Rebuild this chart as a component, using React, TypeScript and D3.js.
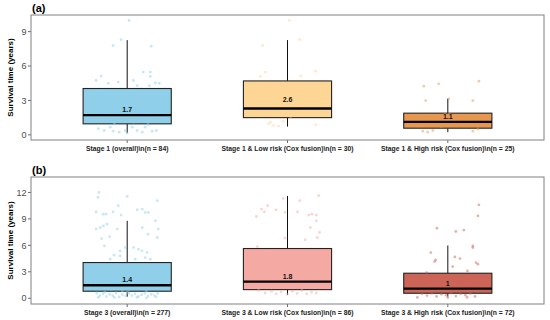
import React from "react";
import * as d3 from "d3";

// ---------- data ----------
const catsA = [
  "Stage 1 (overall)\\n(n = 84)",
  "Stage 1 & Low risk (Cox fusion)\\n(n = 30)",
  "Stage 1 & High risk (Cox fusion)\\n(n = 25)",
];
const catsB = [
  "Stage 3 (overall)\\n(n = 277)",
  "Stage 3 & Low risk (Cox fusion)\\n(n = 86)",
  "Stage 3 & High risk (Cox fusion)\\n(n = 72)",
];
// [lowerWhisker, q1, median, q3, upperWhisker]
const statsA = [
  [0.15, 0.96, 1.72, 4.04, 8.26],
  [0.72, 1.5, 2.3, 4.7, 8.26],
  [0.23, 0.58, 1.13, 1.89, 3.16],
];
const statsB = [
  [0.18, 0.8, 1.48, 4.05, 8.78],
  [0.38, 0.98, 1.89, 5.64, 11.6],
  [0.18, 0.57, 1.09, 2.84, 5.98],
];
const labelsA = ["1.7", "2.6", "1.1"];
const labelValsA = [1.7, 2.6, 1.1];
const labelsB = ["1.4", "1.8", "1"];
const labelValsB = [1.4, 1.8, 1.0];
const ticksA = [0, 3, 6, 9];
const ticksB = [0, 3, 6, 9, 12];
const colorsA = ["#8fcfe9", "#fdd696", "#e8974f"];
const colorsB = ["#8fcfe9", "#f4aaa3", "#cc6457"];

// points: [jitter (-1..1), survival years]
const ptsA1 = [
  [0.06, 9.97], [-0.19, 8.31], [-0.44, 7.79], [0.75, 7.73], [-0.81, 5.12], [-0.97, 4.74], [-0.59, 4.5], [-0.28, 4.6],
  [0.19, 4.74], [0.5, 5.47], [0.72, 5.47], [0.72, 5.09], [0.88, 4.53], [1.0, 4.5], [0.69, 4.27], [0.31, 4.3],
  [-0.9, 3.6], [-0.5, 3.2], [0.1, 3.5], [0.6, 3.0], [-0.7, 2.6], [0.35, 2.4], [0.9, 2.1], [-0.3, 2.0], [-0.85, 1.8],
  [0.5, 1.6], [-0.1, 1.4], [0.8, 1.3], [-0.6, 1.2], [0.2, 1.1], [-0.4, 0.95], [0.65, 0.9],
  [-0.72, 0.38], [-0.53, 0.67], [-0.44, 0.32], [-0.25, 0.23], [-0.06, 0.38], [0.16, 0.67], [0.31, 0.38], [0.47, 0.23],
  [0.56, 0.67], [0.78, 0.32], [0.91, 0.38], [-0.9, 0.55], [0.0, 0.15],
];
const ptsA2 = [
  [0.06, 9.97], [0.38, 8.31], [-0.78, 7.79], [-0.69, 5.47], [-0.84, 5.09], [0.41, 5.12], [0.88, 5.55], [-0.53, 1.1],
  [-0.44, 0.81], [-0.28, 0.76], [-0.13, 1.19], [0.88, 0.87], [-0.59, 0.96],
  [-0.6, 4.2], [0.2, 3.6], [0.7, 3.1], [-0.3, 2.8], [0.5, 2.0], [-0.8, 1.8], [0.1, 1.6],
];
const ptsA3 = [
  [-0.75, 4.24], [-0.28, 4.45], [0.97, 4.68], [-0.69, 2.99], [0.03, 3.14], [0.78, 2.99], [-0.09, 1.83], [0.05, 1.83],
  [-0.78, 0.32], [-0.63, 0.23], [-0.47, 0.38], [0.78, 0.32], [0.94, 0.52], [-0.5, 1.5], [0.4, 1.2], [0.6, 0.9],
  [-0.2, 0.7], [0.2, 1.6], [-0.9, 1.0],
];
const ptsB1 = [
  [-0.88, 12.0], [-0.91, 11.43], [0, 11.55], [0.94, 11.06], [-0.28, 10.49], [-0.97, 9.8], [-0.75, 9.54], [-0.66, 9.54],
  [-0.44, 9.8], [-0.19, 9.43], [0.31, 10.03], [0.47, 10.11], [0.56, 9.73], [0.66, 9.73], [-0.84, 8.02], [-0.74, 8.2],
  [-0.63, 8.4], [-0.97, 7.84], [-0.31, 7.84], [0.47, 8.02], [0.88, 8.78], [0.97, 7.84], [-0.8, 6.77], [-0.55, 7.0],
  [0.65, 7.27], [0.94, 6.89], [-0.71, 5.94], [-0.22, 5.38], [-0.06, 5.75], [0.2, 5.75], [0.35, 5.57], [0.46, 5.38],
  [0.62, 5.18], [-0.41, 4.89], [-0.22, 4.8], [-0.53, 4.43], [0.25, 4.43], [0.56, 4.61], [0.72, 4.43],
  [-0.9, 3.8], [-0.6, 3.5], [-0.2, 3.7], [0.1, 3.3], [0.5, 3.6], [0.85, 3.2], [-0.8, 2.9], [-0.4, 2.6], [0.3, 2.8],
  [0.7, 2.4], [-0.95, 2.2], [-0.1, 2.1], [0.55, 2.0], [-0.65, 1.8], [0.2, 1.7], [0.9, 1.6], [-0.3, 1.5], [0.4, 1.3],
  [-0.85, 1.2], [0.75, 1.1], [-0.5, 1.0], [0.05, 0.95], [-0.15, 0.85], [0.6, 0.85],
  [-0.95, 0.6], [-0.85, 0.3], [-0.75, 0.5], [-0.65, 0.2], [-0.55, 0.45], [-0.45, 0.3], [-0.35, 0.6], [-0.25, 0.15],
  [-0.15, 0.4], [-0.05, 0.25], [0.05, 0.55], [0.15, 0.3], [0.25, 0.5], [0.35, 0.2], [0.45, 0.4], [0.55, 0.6],
  [0.65, 0.25], [0.75, 0.45], [0.85, 0.3], [0.95, 0.55], [-0.9, 0.1], [-0.7, 0.7], [-0.4, 0.1], [0.0, 0.7],
  [0.3, 0.1], [0.6, 0.05], [0.9, 0.15],
];
const ptsB2 = [
  [-0.13, 11.32], [0.97, 11.63], [0.38, 11.06], [-0.97, 9.27], [-0.81, 10.11], [-0.72, 9.8], [-0.62, 10.49],
  [-0.36, 10.03], [-0.08, 9.73], [0.31, 9.8], [0.66, 9.43], [0.76, 9.54], [0.9, 9.43], [0.9, 8.78], [0.71, 8.02],
  [1.0, 7.46], [0.93, 6.89], [0.55, 6.63], [-0.08, 6.82], [-0.94, 5.86],
  [-0.6, 5.0], [0.3, 4.5], [-0.2, 3.9], [0.8, 3.4], [-0.8, 3.0], [0.1, 2.6], [0.5, 2.2], [-0.4, 1.7], [0.7, 1.4],
  [-0.7, 1.2], [-0.9, 0.9], [-0.7, 0.6], [-0.5, 0.8], [-0.35, 0.5], [-0.2, 0.7], [0.0, 0.45], [0.15, 0.8],
  [0.3, 0.55], [0.45, 0.9], [0.6, 0.5], [0.75, 0.7], [0.9, 0.6],
];
const ptsB3 = [
  [0.97, 10.6], [0.94, 9.35], [-0.34, 7.95], [0.25, 7.57], [0.5, 7.73], [0.78, 5.94], [0.78, 5.75], [-0.53, 5.18],
  [-0.38, 4.35], [-0.41, 4.16], [0.22, 4.69], [0.38, 4.5], [0.15, 3.59], [0.88, 4.05], [0.94, 3.86], [0.61, 3.1],
  [-0.66, 2.91], [-0.85, 2.5], [-0.5, 2.1], [0.0, 2.3], [0.5, 2.4], [0.9, 2.2], [-0.7, 1.6], [-0.2, 1.8], [0.3, 1.5],
  [0.7, 1.3], [-0.4, 1.1], [0.1, 0.9], [-0.95, 0.1], [-0.8, 0.5], [-0.65, 0.3], [-0.5, 0.55], [-0.35, 0.2],
  [-0.2, 0.45], [-0.05, 0.35], [0.1, 0.6], [0.25, 0.25], [0.4, 0.5], [0.55, 0.35], [0.7, 0.55], [0.85, 0.2],
  [-0.9, 0.75], [0.0, 0.08], [0.6, 0.1],
];

const panelA = { tag: "(a)", cats: catsA, stats: statsA, labels: labelsA, labelVals: labelValsA, ticks: ticksA, colors: colorsA, pts: [ptsA1, ptsA2, ptsA3], domain: [-0.45, 10.45], top: 15, bottom: 140 };
const panelB = { tag: "(b)", cats: catsB, stats: statsB, labels: labelsB, labelVals: labelValsB, ticks: ticksB, colors: colorsB, pts: [ptsB1, ptsB2, ptsB3], domain: [-0.65, 13.75], top: 177, bottom: 304 };

const LEFT = 31;
const RIGHT = 544;
const FONT = "'Liberation Sans', Arial, sans-serif";

function Panel({ p }: { p: typeof panelA }) {
  const x = d3.scaleLinear().domain([0.4, 3.6]).range([LEFT, RIGHT]);
  const y = d3.scaleLinear().domain(p.domain).range([p.bottom, p.top]);
  const halfBox = x(1.275) - x(1);
  const jit = x(1.2) - x(1);
  const mid = (p.top + p.bottom) / 2;
  return (
    <g>
      <text x={32} y={p.top - 3} fontFamily={FONT} fontWeight="bold" fontSize={11} fill="#000">{p.tag}</text>
      <text transform={`translate(13,${mid}) rotate(-90)`} textAnchor="middle" fontFamily={FONT} fontWeight="bold" fontSize={8} fill="#000">Survival time (years)</text>
      {p.ticks.map((t) => (
        <g key={t}>
          <line x1={LEFT - 3} x2={LEFT} y1={y(t)} y2={y(t)} stroke="#444" strokeWidth={0.8} />
          <text x={LEFT - 4.5} y={y(t) + 3.2} textAnchor="end" fontFamily={FONT} fontSize={9} fill="#4d4d4d">{t}</text>
        </g>
      ))}
      {p.cats.map((c, i) => (
        <g key={c}>
          <line x1={x(i + 1)} x2={x(i + 1)} y1={p.bottom} y2={p.bottom + 3} stroke="#444" strokeWidth={0.8} />
          <text x={x(i + 1)} y={p.bottom + 10.5} textAnchor="middle" fontFamily={FONT} fontWeight="bold" fontSize={6.8} fill="#222">{c}</text>
        </g>
      ))}
      {p.stats.map((s, i) => {
        const cx = x(i + 1);
        return (
          <g key={i}>
            <line x1={cx} x2={cx} y1={y(s[3])} y2={y(s[4])} stroke="#111" strokeWidth={1} />
            <line x1={cx} x2={cx} y1={y(s[1])} y2={y(s[0])} stroke="#111" strokeWidth={1} />
            <rect x={cx - halfBox} y={y(s[3])} width={2 * halfBox} height={y(s[1]) - y(s[3])} fill={p.colors[i]} stroke="#222" strokeWidth={1.1} />
          </g>
        );
      })}
      {p.pts.map((arr, i) =>
        arr.map((d, k) => (
          <circle key={`${i}-${k}`} cx={x(i + 1) + d[0] * jit} cy={y(d[1])} r={1.4} fill={p.colors[i]} opacity={0.5} />
        ))
      )}
      {p.stats.map((s, i) => {
        const cx = x(i + 1);
        return (
          <g key={"m" + i}>
            <line x1={cx - halfBox} x2={cx + halfBox} y1={y(s[2])} y2={y(s[2])} stroke="#000" strokeWidth={2.4} />
            <text x={cx} y={y(p.labelVals[i]) - 3.5} textAnchor="middle" fontFamily={FONT} fontWeight="bold" fontSize={7} fill="#111">{p.labels[i]}</text>
          </g>
        );
      })}
      <rect x={LEFT} y={p.top} width={RIGHT - LEFT} height={p.bottom - p.top} fill="none" stroke="#808080" strokeWidth={1} />
    </g>
  );
}

export default function App() {
  return (
    <svg width={550} height={320} style={{ position: "absolute", left: 0, top: 0, background: "#fff" }}>
      <rect width={550} height={320} fill="#fff" />
      <Panel p={panelA} />
      <Panel p={panelB} />
    </svg>
  );
}
